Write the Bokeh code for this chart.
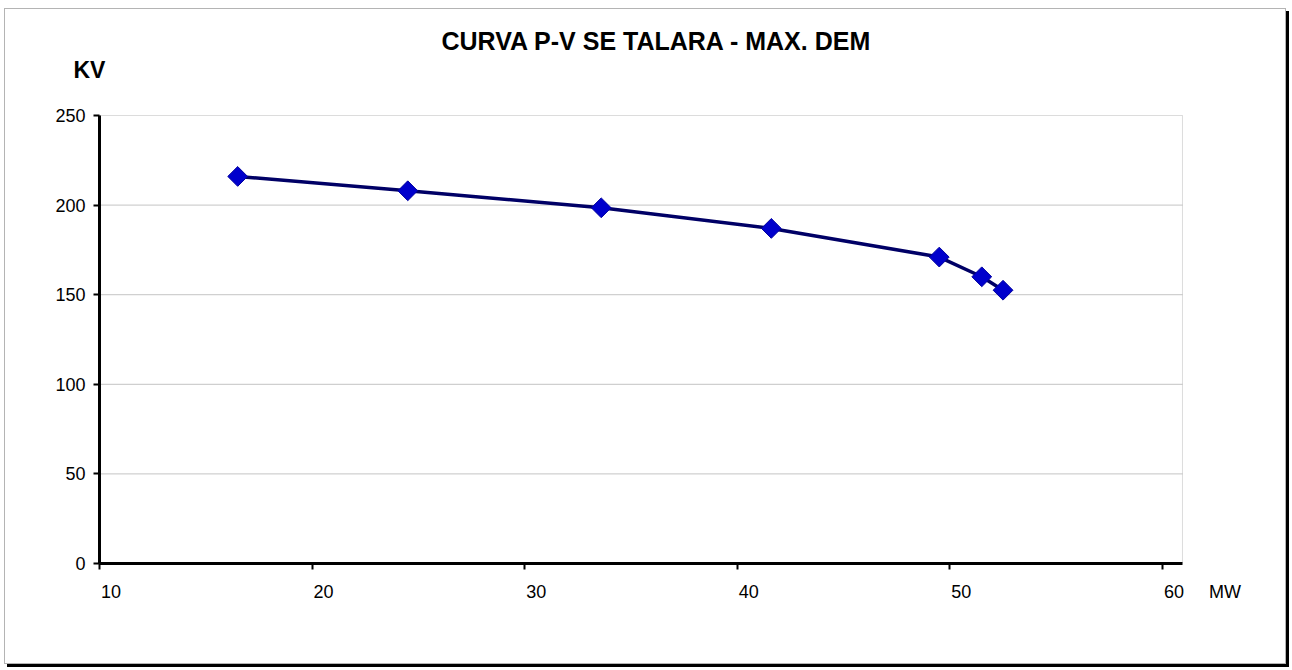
import math

from bokeh.embed import file_html
from bokeh.models import BoxAnnotation, FixedTicker, LinearAxis, Range1d, Title
from bokeh.plotting import figure
from bokeh.resources import INLINE

# P-V curve of the Talara substation at maximum demand
potencia_mw = [16.5, 24.5, 33.6, 41.6, 49.5, 51.5, 52.5]
tension_kv = [216.0, 208.0, 198.5, 187.0, 171.0, 160.0, 152.5]

x_ticks = [10, 20, 30, 40, 50, 60]
y_ticks = [0, 50, 100, 150, 200, 250]

titulo = "CURVA P-V  SE TALARA - MAX. DEM"
eje_y = "KV"
eje_x = "MW"

FONT = "Liberation Sans"

# plot area spans 10..60.94 MW and 0..250 kV; the frame is a bit larger
# so the unit caption can sit on the tick-label row
X_START, X_AXIS_END, X_END = 10, 60.94, 64.14
Y_START, Y_AXIS_END, Y_END = 0, 250, 268.42
# shift so that each x tick label starts at its tick instead of centring on it
LABEL_SHIFT = 0.54
# position of the "MW" caption on the shifted label axis
MW_AT = 62.4

p = figure(
    width=1282,
    height=656,
    x_range=Range1d(X_START, X_END),
    y_range=Range1d(Y_START, Y_END),
    output_backend="svg",
    toolbar_location=None,
    min_border_left=94,
    min_border_right=37,
    min_border_top=73,
    min_border_bottom=102,
    background_fill_color="white",
    border_fill_color="white",
)
p.styles = {
    "margin-left": "4px",
    "margin-top": "8px",
    "border": "1px solid #b4b4b4",
    "box-shadow": "3px 3px 0 #000000",
}
p.outline_line_color = None

# plot-area border (top and right edges show; axes cover the others)
p.add_layout(BoxAnnotation(
    left=X_START, right=X_AXIS_END, bottom=Y_START, top=Y_AXIS_END,
    fill_color=None, line_color="#8a8a8a", line_width=1, level="underlay",
))

# horizontal grid lines limited to the plot area
grid_y = y_ticks[1:-1]
p.segment(
    x0=[X_START] * len(grid_y), y0=grid_y,
    x1=[X_AXIS_END] * len(grid_y), y1=grid_y,
    line_color="#c4c4c4", line_width=1, level="underlay",
)
p.xgrid.grid_line_color = None
p.ygrid.grid_line_color = None

# axes
for ax in (p.xaxis[0], p.yaxis[0]):
    ax.axis_line_color = "black"
    ax.axis_line_width = 3
    ax.major_tick_line_color = "black"
    ax.major_tick_line_width = 2
    ax.major_tick_out = 6
    ax.major_tick_in = 0
    ax.minor_tick_line_color = None
    ax.major_label_text_font = FONT
    ax.major_label_text_font_size = "18px"
    ax.major_label_text_color = "black"

p.xaxis.ticker = FixedTicker(ticks=x_ticks)
p.yaxis.ticker = FixedTicker(ticks=y_ticks)
p.xaxis.bounds = (X_START, X_AXIS_END)
p.yaxis.bounds = (Y_START, Y_AXIS_END)
p.yaxis.major_label_standoff = 8

# main x axis draws line and ticks only; labels come from the shifted axis
p.xaxis.major_label_overrides = {t: "" for t in x_ticks}
p.xaxis.major_label_standoff = 0

p.extra_x_ranges = {"etiquetas": Range1d(X_START - LABEL_SHIFT, X_END - LABEL_SHIFT)}
lbl_axis = LinearAxis(
    x_range_name="etiquetas",
    ticker=FixedTicker(ticks=x_ticks + [MW_AT]),
    major_label_overrides={MW_AT: eje_x},
    axis_line_color=None,
    major_tick_line_color=None,
    minor_tick_line_color=None,
    major_tick_in=0,
    major_tick_out=0,
    major_label_standoff=12,
    major_label_text_font=FONT,
    major_label_text_font_size="18px",
    major_label_text_color="black",
)
p.add_layout(lbl_axis, "below")

# curve and markers
p.line(potencia_mw, tension_kv, line_color="#000066", line_width=3.5)
p.scatter(
    potencia_mw,
    tension_kv,
    marker="square",
    angle=math.pi / 4,
    size=14,
    fill_color="#0000cc",
    line_color="#0000a0",
    line_width=1,
)

# y caption sits right above the frame, the chart title above it
p.add_layout(Title(
    text=eje_y, align="left", offset=-26, standoff=0,
    text_font=FONT, text_font_size="23px", text_font_style="bold",
    text_color="black",
), "above")

p.title.text = titulo
p.title.align = "left"
p.title.offset = 342
p.title.standoff = 0
p.title.text_font = FONT
p.title.text_font_size = "25px"
p.title.text_font_style = "bold"
p.title.text_color = "black"

open("out.html", "w").write(file_html(p, INLINE))
